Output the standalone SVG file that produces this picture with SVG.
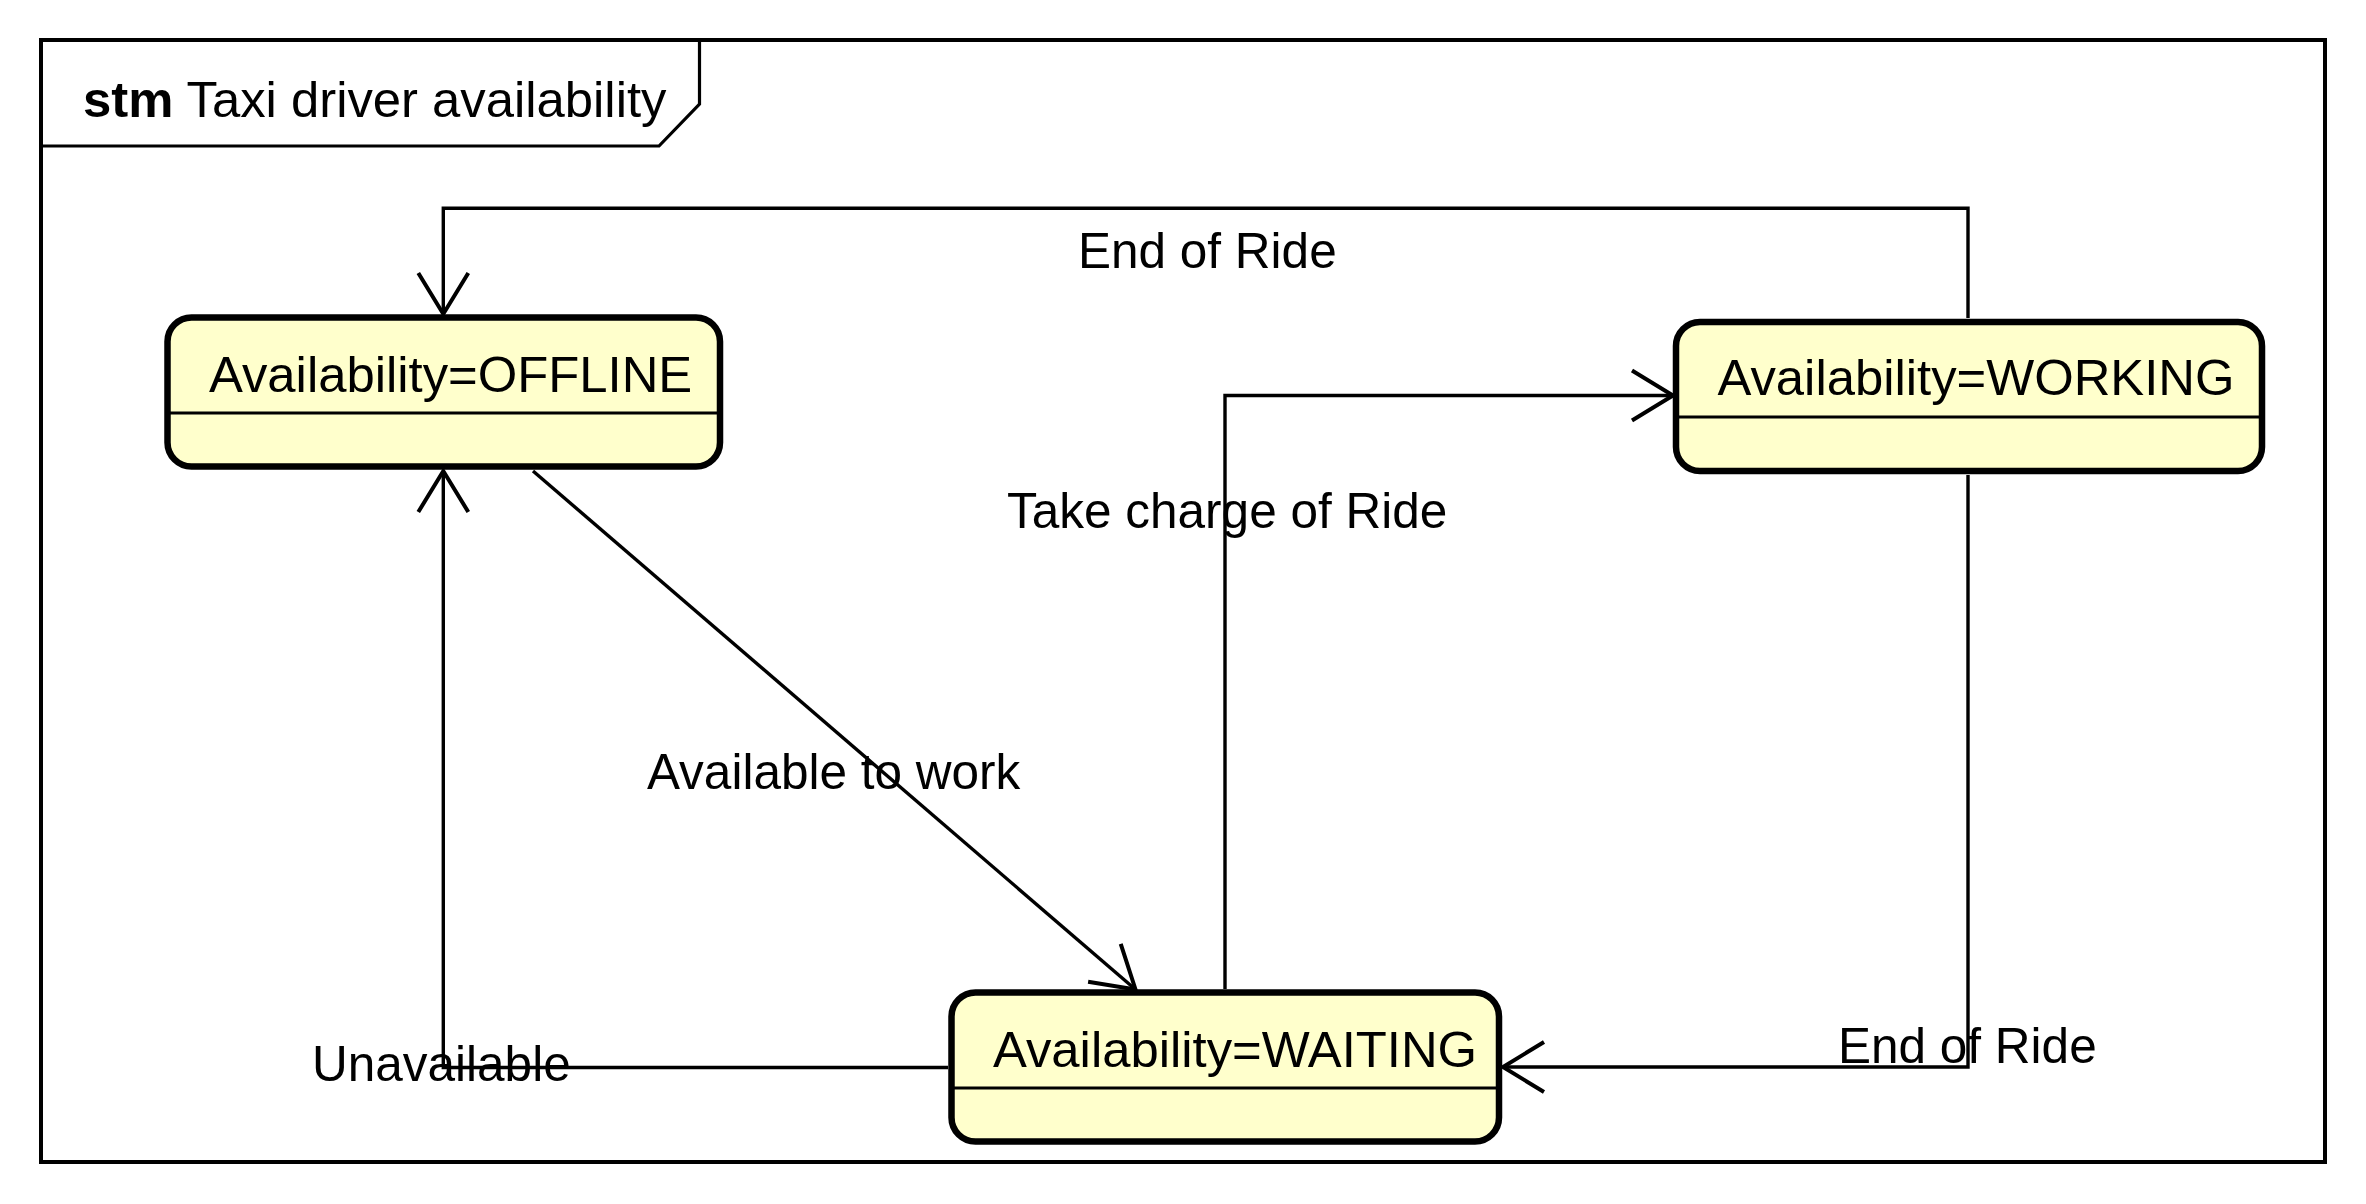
<svg xmlns="http://www.w3.org/2000/svg" width="2366" height="1204" viewBox="0 0 2366 1204">
<style>
text{font-family:"Liberation Sans",Arial,sans-serif;fill:#000}
.lbl{font-size:49.5px}
.nt{font-size:50.8px}
.state{fill:#FFFFCC;stroke:#000;stroke-width:6.5}
.div{stroke:#000;stroke-width:3}
.conn{fill:none;stroke:#000;stroke-width:3.4}
</style>
<defs>
<marker id="open" markerUnits="userSpaceOnUse" markerWidth="60" markerHeight="60" viewBox="-50 -30 60 60" refX="0" refY="0" orient="auto" overflow="visible">
<path d="M-41,-25 L0,0 L-41,25" fill="none" stroke="#000" stroke-width="4"/>
</marker>
</defs>
<rect width="2366" height="1204" fill="#fff"/>
<g id="frame">
<rect x="41" y="40" width="2284" height="1122" fill="none" stroke="#000" stroke-width="4"/>
<polyline points="41,146 659,146 699.5,104 699.5,40" fill="none" stroke="#000" stroke-width="3.2"/>
<text x="83" y="117" style="font-size:50.8px"><tspan font-weight="bold">stm</tspan> Taxi driver availability</text>
</g>
<g id="offline">
<rect class="state" x="167.5" y="317.5" width="552.5" height="149" rx="24"/>
<line class="div" x1="170" y1="413" x2="717" y2="413"/>
<text class="nt" x="209" y="391.5">Availability=OFFLINE</text>
</g>
<g id="working">
<rect class="state" x="1676" y="322" width="586" height="149" rx="24"/>
<line class="div" x1="1679" y1="417" x2="2259" y2="417"/>
<text class="nt" x="1717.5" y="395">Availability=WORKING</text>
</g>
<g id="waiting">
<rect class="state" x="951.5" y="992.5" width="547.5" height="149" rx="24"/>
<line class="div" x1="954" y1="1088" x2="1496" y2="1088"/>
<text class="nt" x="993" y="1066.5">Availability=WAITING</text>
</g>
<g id="connectors">
<path class="conn" d="M1968,318 V208.3 H443.3 V314" marker-end="url(#open)"/>
<path class="conn" d="M533,471 L1135.5,989.5" marker-end="url(#open)"/>
<path class="conn" d="M1225,989 V395.5 H1673" marker-end="url(#open)"/>
<path class="conn" d="M1968,475 V1067 H1503" marker-end="url(#open)"/>
<path class="conn" d="M948,1067.5 H443.3 V471" marker-end="url(#open)"/>
</g>
<g id="labels">
<text class="lbl" x="1078" y="268">End of Ride</text>
<text class="lbl" x="1007" y="528">Take charge of Ride</text>
<text class="lbl" x="647" y="789">Available to work</text>
<text class="lbl" x="312" y="1081">Unavailable</text>
<text class="lbl" x="1838" y="1063">End of Ride</text>
</g>
</svg>
